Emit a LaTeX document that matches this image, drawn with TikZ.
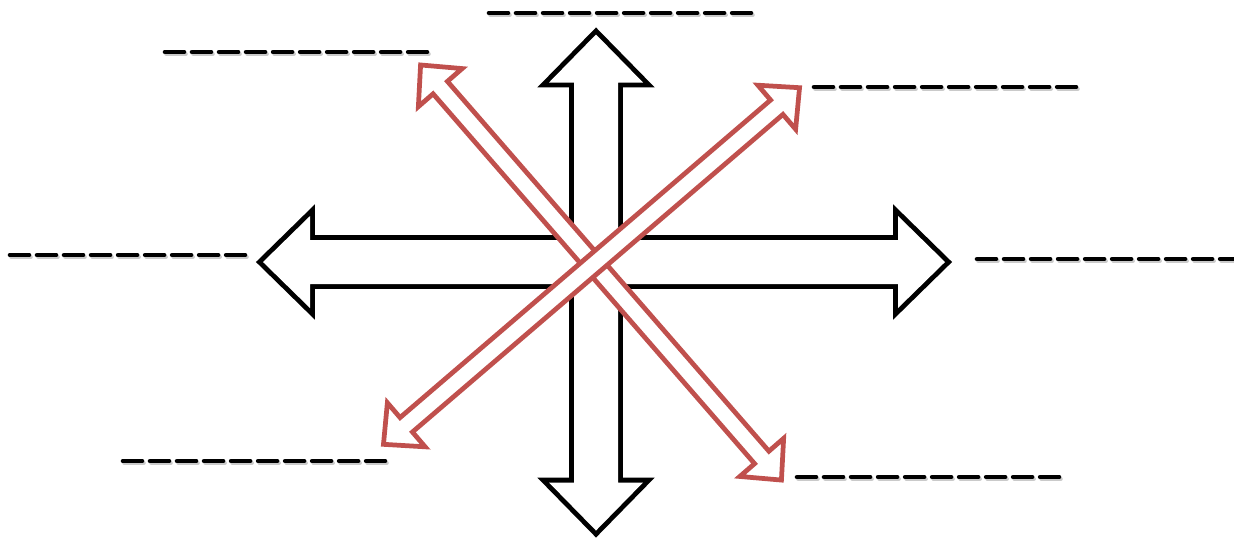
\documentclass[tikz,border=0pt]{standalone}
\usetikzlibrary{calc}
\definecolor{arrowred}{RGB}{192,80,77}
% outline of a two-headed block arrow: half length, half shaft, half head, head length
\newcommand{\twoheads}[4]{(-#1,0) -- (-#1+#4,#3) -- (-#1+#4,#2) -- (#1-#4,#2) -- (#1-#4,#3) -- (#1,0)
  -- (#1-#4,-#3) -- (#1-#4,-#2) -- (-#1+#4,-#2) -- (-#1+#4,-#3) -- cycle}

\begin{document}
\begin{tikzpicture}[x=0.01cm,y=-0.01cm,line join=miter,
  blank/.style={line width=1.3pt,line cap=round,dash pattern=on 0.19cm off 0.08cm},
  blankshadow/.style={blank,draw=black!35,opacity=0.6},
  outline/.style={draw=black,line width=2.8pt},
  hollow/.style={fill=white},
  redarrow/.style={draw=arrowred,fill=white,line width=1.35pt}]
\useasboundingbox (0,0) rectangle (1234,538);

% empty label lines
\foreach \x/\y/\n in {489/13/10,165/52/10,814/87/10,10/255/9,977/259/10,123/461/10,797/477/10}{
  \draw[blankshadow] (\x+1.5,\y+2) -- ++(27*\n-8,0);
  \draw[blank] (\x,\y) -- ++(27*\n-8,0);
}

% black cross of arrows, drawn as one outline
\begin{scope}[shift={(604,262)}]
  \draw[outline] \twoheads{341}{22}{46}{47};
\end{scope}
\begin{scope}[shift={(596,282.5)},rotate=90]
  \draw[outline] \twoheads{248}{22}{47}{48};
\end{scope}
\begin{scope}[shift={(604,262)}]
  \fill[hollow] \twoheads{341}{22}{46}{47};
\end{scope}
\begin{scope}[shift={(596,282.5)},rotate=90]
  \fill[hollow] \twoheads{248}{22}{47}{48};
\end{scope}

% red diagonals
\begin{scope}[shift={(601,272.5)},rotate=-49]
  \draw[redarrow] \twoheads{275}{9.5}{29}{30};
\end{scope}
\begin{scope}[shift={(591.5,266)},rotate=40.6]
  \draw[redarrow] \twoheads{274}{9.5}{29}{30};
\end{scope}
\end{tikzpicture}
\end{document}
